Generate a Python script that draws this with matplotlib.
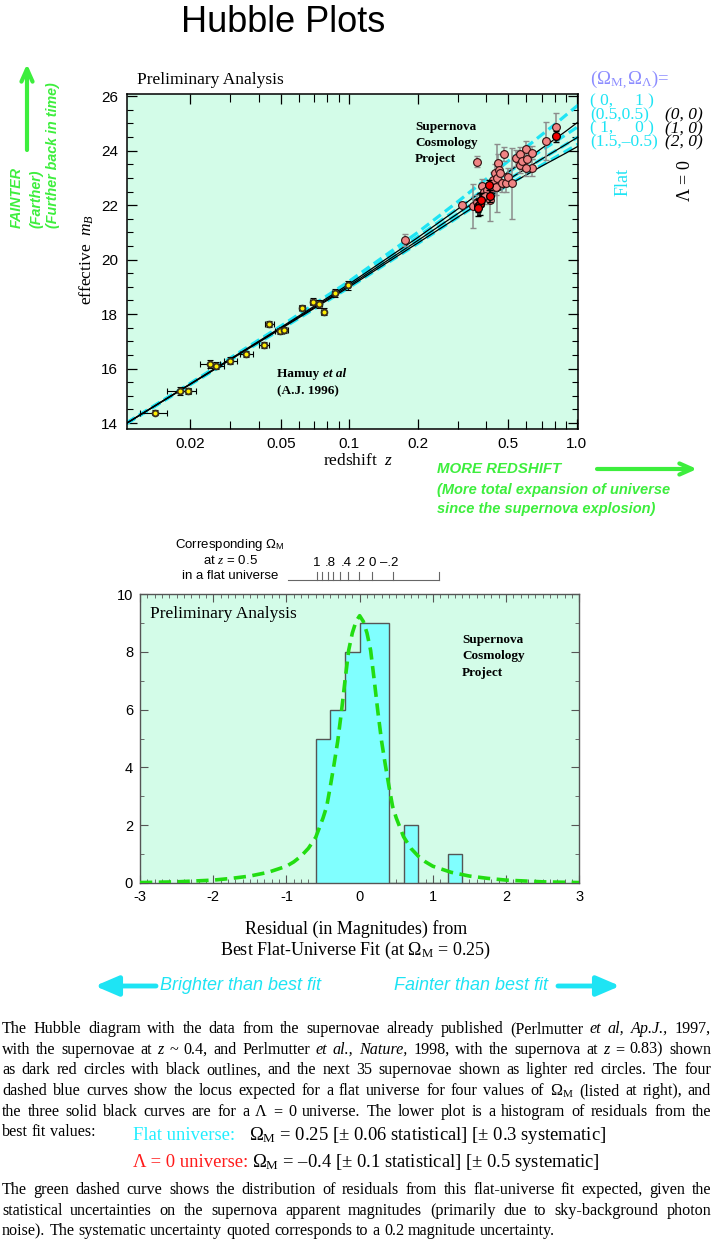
import matplotlib
matplotlib.use("Agg")
import matplotlib.pyplot as plt
import matplotlib.transforms as mtransforms
from matplotlib.patches import FancyArrowPatch
from matplotlib.ticker import FixedLocator, NullFormatter, MultipleLocator, FixedFormatter

SANS = "Liberation Sans"
SERIF = "Liberation Serif"
plt.rcParams["font.family"] = [SANS, "DejaVu Sans"]
plt.rcParams["mathtext.fontset"] = "custom"
plt.rcParams["mathtext.rm"] = SERIF
plt.rcParams["mathtext.it"] = SERIF + ":italic"
plt.rcParams["mathtext.bf"] = SERIF + ":bold"
plt.rcParams["mathtext.sf"] = SANS
plt.rcParams["axes.unicode_minus"] = False

# ---------------- data ----------------
# model curves (effective m_B vs redshift)
model_z = [0.0105, 0.02, 0.05, 0.1, 0.2, 0.3, 0.4, 0.5, 0.6, 0.7, 0.8, 0.9, 1.012]
flat_0_1 = [14.01, 15.46, 17.56, 19.21, 21.00, 22.13, 22.96, 23.62, 24.13, 24.58, 24.96, 25.32, 25.67]
flat_05_05 = [14.00, 15.44, 17.52, 19.13, 20.84, 21.88, 22.63, 23.21, 23.64, 24.01, 24.32, 24.60, 24.88]
flat_1_0 = [13.99, 15.43, 17.48, 19.05, 20.70, 21.69, 22.41, 22.94, 23.35, 23.69, 23.98, 24.24, 24.50]
flat_15_m05 = [13.98, 15.41, 17.44, 18.98, 20.59, 21.55, 22.23, 22.75, 23.14, 23.47, 23.74, 23.99, 24.24]
open_0_0 = [14.00, 15.44, 17.51, 19.11, 20.81, 21.86, 22.63, 23.22, 23.68, 24.08, 24.42, 24.73, 25.05]
open_1_0 = flat_1_0
open_2_0 = [13.99, 15.42, 17.46, 19.00, 20.61, 21.56, 22.23, 22.74, 23.11, 23.43, 23.69, 23.92, 24.16]

# Hamuy et al (1996) low-redshift supernovae
hamuy_z = [0.01394, 0.01796, 0.01961, 0.02449, 0.02603, 0.02998, 0.03526, 0.04229, 0.04446,
           0.04936, 0.0514, 0.0619, 0.0692, 0.0738, 0.0773, 0.0861, 0.0986]
hamuy_m = [14.38, 15.18, 15.18, 16.16, 16.11, 16.29, 16.53, 16.86, 17.63,
           17.37, 17.42, 18.24, 18.46, 18.36, 18.09, 18.77, 19.05]
hamuy_zerr = [0.0019, 0.0021, 0.0015, 0.0024, 0.0022, 0.0020, 0.0023, 0.0021, 0.0020,
              0.0021, 0.0021, 0.0021, 0.0021, 0.0021, 0.0020, 0.0021, 0.0022]
hamuy_merr = [0.08, 0.14, 0.10, 0.15, 0.12, 0.12, 0.12, 0.10, 0.10,
              0.10, 0.10, 0.10, 0.12, 0.14, 0.12, 0.15, 0.18]

# next 35 Supernova Cosmology Project supernovae (lighter red)
scp_new_z = [0.176, 0.314, 0.348, 0.363, 0.363, 0.382, 0.389, 0.402, 0.395, 0.416, 0.425, 0.430,
             0.437, 0.442, 0.447, 0.452, 0.455, 0.460, 0.468, 0.480, 0.489, 0.500, 0.518, 0.539,
             0.563, 0.569, 0.563, 0.575, 0.596, 0.606, 0.634, 0.634, 0.598, 0.732, 0.808]
scp_new_m = [20.72, 22.01, 21.97, 22.11, 23.60, 22.71, 22.50, 22.56, 22.35, 22.17, 22.62, 22.93,
             23.17, 22.68, 23.01, 23.56, 23.30, 23.17, 22.80, 23.87, 22.80, 23.05, 22.80, 23.74,
             23.87, 23.56, 23.48, 23.62, 24.05, 23.69, 23.93, 23.38, 23.36, 24.36, 24.88]
scp_new_err = [0.22, 0.12, 0.80, 0.25, 0.20, 0.25, 0.30, 0.25, 0.30, 0.75, 0.30, 0.30,
               0.35, 0.30, 1.25, 0.30, 0.30, 0.25, 0.30, 0.25, 0.30, 0.30, 1.30, 0.30,
               0.25, 0.25, 0.30, 0.25, 0.30, 0.30, 0.25, 0.30, 0.30, 0.70, 0.50]

# previously published SCP supernovae (dark red)
scp_old_z = [0.369, 0.374, 0.366, 0.378, 0.412, 0.416, 0.808]
scp_old_m = [21.98, 22.05, 21.90, 22.20, 22.74, 22.34, 24.52]
scp_old_err = [0.25, 0.40, 0.30, 0.25, 0.20, 0.22, 0.20]

xtick_vals = [0.02, 0.05, 0.1, 0.2, 0.5, 1.0]
xtick_labels = ["0.02", "0.05", "0.1", "0.2", "0.5", "1.0"]
xminor_vals = [0.01, 0.03, 0.04, 0.06, 0.07, 0.08, 0.09, 0.3, 0.4, 0.6, 0.7, 0.8, 0.9]

legend_flat = ["( 0,     1 )", "(0.5,0.5)", "( 1,     0 )", "(1.5,\u20130.5)"]
legend_open = ["(0, 0)", "(1, 0)", "(2, 0)"]

# residual histogram
hist_edges = [-0.6, -0.4, -0.2, 0.0, 0.2, 0.4, 0.6, 0.8, 1.0, 1.2, 1.4]
hist_counts = [5, 6, 8, 9, 9, 0, 2, 0, 0, 1]

# expected residual distribution (green dashed)
res_x = [-3.0, -2.5, -2.0, -1.75, -1.5, -1.25, -1.0, -0.9, -0.8, -0.7, -0.6, -0.5, -0.45, -0.4,
         -0.35, -0.3, -0.25, -0.2, -0.15, -0.1, -0.05, 0.0, 0.05, 0.1, 0.15, 0.2, 0.25, 0.3,
         0.35, 0.4, 0.45, 0.5, 0.6, 0.7, 0.8, 0.9, 1.0, 1.25, 1.5, 1.75, 2.0, 2.5, 3.0]
res_y = [0.015, 0.04, 0.10, 0.16, 0.24, 0.37, 0.58, 0.73, 0.93, 1.2, 1.58, 2.25, 2.65, 3.35,
         4.1, 4.9, 5.9, 7.0, 8.05, 8.65, 9.05, 9.25, 9.05, 8.65, 8.05, 7.0, 5.9, 4.9,
         4.1, 3.35, 2.65, 2.25, 1.6, 1.2, 0.93, 0.73, 0.58, 0.37, 0.24, 0.16, 0.10, 0.04, 0.015]

# corresponding Omega_M scale (in residual units)
om_tick_x = [-0.587, -0.519, -0.437, -0.361, -0.269, -0.164, -0.010, 0.172, 0.459]
om_labels = ["1", ".8", ".4", ".2", "0", "\u2013.2"]
om_label_x = [-0.587, -0.395, -0.178, 0.004, 0.172, 0.404]
om_scale_range = [-0.975, 1.087]

# ---------------- style ----------------
W, H = 713, 1245
BG = "#d3fce8"
CYAN = "#1ee4f4"
GREEN = "#3dee3d"
CURVE_GREEN = "#22dd11"
LAVENDER = "#8c8cff"
PM = "\u00b1"
EN = "\u2013"

fig = plt.figure(figsize=(W / 100, H / 100), dpi=100)
renderer = fig.canvas.get_renderer()


def T(x, y, s, **kw):
    return fig.text(x / W, 1 - y / H, s, **kw)


def arrow(p0, p1, color, lw, style):
    a = FancyArrowPatch((p0[0] / W, 1 - p0[1] / H), (p1[0] / W, 1 - p1[1] / H),
                        transform=fig.transFigure, arrowstyle=style, color=color, lw=lw,
                        mutation_scale=1, shrinkA=0, shrinkB=0)
    fig.add_artist(a)


# title
T(283, 22, "Hubble Plots", fontsize=26, ha="center", va="center", family=SANS)

# ---------------- top plot ----------------
ax1 = fig.add_axes([126.7 / W, 1 - 429 / H, (578 - 126.7) / W, (429 - 94) / H])
ax1.set_facecolor(BG)
ax1.set_xscale("log")
ax1.set_xlim(0.0105, 1.012)
ax1.set_ylim(13.78, 26.08)

for ys in [flat_0_1, flat_05_05, flat_1_0, flat_15_m05]:
    ax1.plot(model_z, ys, color=CYAN, lw=2.3, ls=(0, (3, 1.6)), zorder=2)
for ys in [open_0_0, open_1_0, open_2_0]:
    ax1.plot(model_z, ys, color="black", lw=0.9, zorder=3)

ax1.errorbar(hamuy_z, hamuy_m, xerr=hamuy_zerr, yerr=hamuy_merr, fmt="none", ecolor="black",
             elinewidth=0.8, capsize=2, capthick=0.8, zorder=4)
ax1.plot(hamuy_z, hamuy_m, "o", ms=4.2, mfc="#ffee00", mec="#3a3020", mew=1.3, zorder=5)

ax1.errorbar(scp_new_z, scp_new_m, yerr=scp_new_err, fmt="none", ecolor="#8c8c8c",
             elinewidth=1.1, capsize=2.5, capthick=1.0, zorder=4)
ax1.plot(scp_new_z, scp_new_m, "o", ms=5.6, mfc="#f08484", mec="#301010", mew=0.8, zorder=6)
ax1.errorbar(scp_old_z, scp_old_m, yerr=scp_old_err, fmt="none", ecolor="black",
             elinewidth=1.1, capsize=2.5, capthick=1.0, zorder=6)
ax1.plot(scp_old_z, scp_old_m, "o", ms=5.6, mfc="#ee0000", mec="black", mew=0.9, zorder=7)

ax1.xaxis.set_major_locator(FixedLocator(xtick_vals))
ax1.xaxis.set_major_formatter(FixedFormatter(xtick_labels))
ax1.xaxis.set_minor_locator(FixedLocator(xminor_vals))
ax1.xaxis.set_minor_formatter(NullFormatter())
ax1.yaxis.set_major_locator(MultipleLocator(2))
ax1.yaxis.set_minor_locator(MultipleLocator(0.5))
ax1.tick_params(which="both", direction="in", top=True, right=True)
ax1.tick_params(which="major", length=7, width=0.9, labelsize=11, pad=6)
ax1.tick_params(axis="x", which="minor", length=6, width=0.8)
ax1.tick_params(axis="y", which="minor", length=4, width=0.8)
for sp in ax1.spines.values():
    sp.set_linewidth(1.1)

T(137, 80, "Preliminary Analysis", family=SERIF, fontsize=12.5, ha="left", va="center")
T(87, 259, r"effective  $m_B$", family=SERIF, fontsize=12.5, rotation=90, ha="center", va="center")
T(358, 461, r"redshift  $z$", family=SERIF, fontsize=12.5, ha="center", va="center")
for i, s in enumerate(["Supernova", "Cosmology", "Project"]):
    T(415, 127 + 16 * i, s, family=SERIF, fontsize=9.5, weight="bold", ha="left", va="center")
t = T(277, 377, "Hamuy ", family=SERIF, fontsize=9.5, weight="bold", ha="left", va="baseline")
w = t.get_window_extent(renderer).width
T(277 + w, 377, "et al", family=SERIF, fontsize=9.5, weight="bold", style="italic", ha="left",
  va="baseline")
T(277, 394, "(A.J. 1996)", family=SERIF, fontsize=9.5, weight="bold", ha="left", va="baseline")

# right legend (each block is one multi-line text with tight line spacing)
T(590, 80, r"$(\Omega_\mathrm{M,}\Omega_\Lambda)$=", family=SERIF, fontsize=13.5, color=LAVENDER,
  ha="left", va="center")
T(590, 122, "\n".join(legend_flat), family=SERIF, fontsize=12.5, color=CYAN, ha="left",
  va="center", linespacing=0.8)
T(665, 129, "\n".join(legend_open), family=SERIF, fontsize=12.5, style="italic", color="black",
  ha="left", va="center", linespacing=0.8)
T(623, 182, "Flat", family=SERIF, fontsize=13, color=CYAN, rotation=90, ha="center", va="center")
T(686, 181, r"$\Lambda$ = 0", family=SERIF, fontsize=13, color="black", rotation=90, ha="center",
  va="center")

# left green annotation
arrow((27, 150), (27, 64), GREEN, 3, "->,head_length=9,head_width=4")
for xx, s in [(17, "FAINTER"), (36, "(Farther)"), (53, "(Further back in time)")]:
    T(xx, 228, s, family=SANS, fontsize=10.3, weight="bold", style="italic", color=GREEN,
      rotation=90, ha="center", va="bottom")

# bottom-right green annotation
T(437, 469, "MORE REDSHIFT", family=SANS, fontsize=10.8, weight="bold", style="italic", color=GREEN,
  ha="left", va="center")
arrow((597, 469), (697, 469), GREEN, 3, "->,head_length=9,head_width=4")
T(437, 490, "(More total expansion of universe", family=SANS, fontsize=10.5, weight="bold",
  style="italic", color=GREEN, ha="left", va="center")
T(437, 509, "since the supernova explosion)", family=SANS, fontsize=10.5, weight="bold",
  style="italic", color=GREEN, ha="left", va="center")

# ---------------- histogram ----------------
ax2 = fig.add_axes([140 / W, 1 - 883 / H, (579.3 - 140) / W, (883 - 594) / H])
ax2.set_facecolor(BG)
ax2.set_xlim(-3, 3)
ax2.set_ylim(0, 10)
ax2.stairs(hist_counts, hist_edges, fill=True, facecolor="#80ffff", edgecolor="none", zorder=2)
ax2.stairs(hist_counts, hist_edges, fill=False, baseline=0, edgecolor="#555555", lw=1.0, zorder=3)
ax2.plot(res_x, res_y, color=CURVE_GREEN, lw=2.6, ls=(0, (3.4, 1.8)), zorder=4, clip_on=True)
ax2.xaxis.set_major_locator(MultipleLocator(1))
ax2.xaxis.set_minor_locator(MultipleLocator(0.1))
ax2.yaxis.set_major_locator(MultipleLocator(2))
ax2.yaxis.set_minor_locator(MultipleLocator(1))
ax2.tick_params(which="both", direction="in", top=True, right=True, color="#555555")
ax2.tick_params(which="major", length=6, width=0.8, labelsize=10.5, pad=5)
ax2.tick_params(which="minor", length=3, width=0.6)
for sp in ax2.spines.values():
    sp.set_color("#555555")
    sp.set_linewidth(1.0)

trans = mtransforms.blended_transform_factory(ax2.transData, ax2.transAxes)
ax2.plot(om_scale_range, [1.048, 1.048], transform=trans, color="#666666", lw=0.8, clip_on=False)
for tx in om_tick_x + [om_scale_range[1]]:
    ax2.plot([tx, tx], [1.048, 1.076], transform=trans, color="#666666", lw=0.8, clip_on=False)
for tx, lab in zip(om_label_x, om_labels):
    ax2.text(tx, 1.107, lab, transform=trans, ha="center", va="center", fontsize=9.5, family=SANS)
T(230, 545, "Corresponding \u03a9" + r"$_\mathsf{M}$", family=SANS,
  fontsize=9.5, ha="center", va="center")
T(230, 561, r"at $z$ = 0.5", family=SANS, fontsize=9.5, ha="center", va="center")
T(230, 576, "in a flat universe", family=SANS, fontsize=9.5, ha="center", va="center")

T(150, 614, "Preliminary Analysis", family=SERIF, fontsize=12.5, ha="left", va="center")
for i, s in enumerate(["Supernova", "Cosmology", "Project"]):
    T(462, 640 + 16.5 * i, s, family=SERIF, fontsize=9.5, weight="bold", ha="left", va="center")

T(356, 929, "Residual (in Magnitudes) from", family=SERIF, fontsize=13, ha="center", va="center")
T(356, 950, r"Best Flat-Universe Fit (at $\Omega_\mathrm{M}$ = 0.25)", family=SERIF, fontsize=13,
  ha="center", va="center")

arrow((156, 986), (95, 986), CYAN, 3.5, "-|>,head_length=14,head_width=6")
T(160, 986, "Brighter than best fit", family=SANS, fontsize=13, style="italic", color=CYAN,
  ha="left", va="center")
T(394, 986, "Fainter than best fit", family=SANS, fontsize=13, style="italic", color=CYAN,
  ha="left", va="center")
arrow((558, 986), (620, 986), CYAN, 3.5, "-|>,head_length=14,head_width=6")

# ---------------- caption ----------------
PSIZE = 11.6


def line(chunks, y, justify, x0=2, x1=711, size=PSIZE):
    arts = []
    for text, style in chunks:
        for word in text.split():
            arts.append(fig.text(0, 1 - y / H, word, family=SERIF, fontsize=size,
                                 style=style or "normal", ha="left", va="baseline"))
    widths = [a.get_window_extent(renderer).width for a in arts]
    if justify and len(arts) > 1:
        gap = (x1 - x0 - sum(widths)) / (len(arts) - 1)
    else:
        gap = size * 100 / 72 * 0.25
    x = x0
    for a, wd in zip(arts, widths):
        a.set_x(x / W)
        x += wd + gap


y0 = 1033
dy = 20.7
para = [
    ([("The Hubble diagram with the data from the supernovae already published (Perlmutter", ""),
      ("et al, Ap.J.,", "italic"), ("1997,", "")], True),
    ([("with the supernovae at", ""), ("z", "italic"), ("~ 0.4, and Perlmutter", ""),
      ("et al., Nature,", "italic"), ("1998, with the supernova at", ""), ("z", "italic"),
      ("= 0.83) shown", "")], True),
    ([("as dark red circles with black outlines, and the next 35 supernovae shown as lighter red "
       "circles.  The four", "")], True),
    ([("dashed blue curves show the locus expected for a flat universe for four values of", ""),
      (r"$\Omega_\mathrm{M}$", ""), ("(listed at right), and", "")], True),
    ([("the three solid black curves are for a \u039b = 0 universe.  The lower plot is a histogram "
       "of residuals from the", "")], True),
    ([("best fit values:", "")], False),
]
for i, (chunks, just) in enumerate(para):
    line(chunks, y0 + dy * i, just)

BIG = 13.4
t = T(133, 1140, "Flat universe:", family=SERIF, fontsize=BIG, color="#22eeff", ha="left",
      va="baseline")
w = t.get_window_extent(renderer).width
T(133 + w + 14, 1140, r"$\Omega_\mathrm{M}$ = 0.25 [" + PM + " 0.06 statistical] [" + PM +
  " 0.3 systematic]", family=SERIF, fontsize=BIG, ha="left", va="baseline")
t = T(133, 1167, "\u039b = 0 universe:", family=SERIF, fontsize=BIG, color="#ff1a1a", ha="left",
      va="baseline")
w = t.get_window_extent(renderer).width
T(133 + w + 4, 1167, r"$\Omega_\mathrm{M}$ = " + EN + "0.4 [" + PM + " 0.1 statistical] [" + PM +
  " 0.5 systematic]", family=SERIF, fontsize=BIG, ha="left", va="baseline")

para2 = [
    ([("The green dashed curve shows the distribution of residuals from this flat-universe fit "
       "expected, given the", "")], True),
    ([("statistical uncertainties on the supernova apparent magnitudes (primarily due to "
       "sky-background photon", "")], True),
    ([("noise).  The systematic uncertainty quoted corresponds to a 0.2 magnitude uncertainty.", "")],
     False),
]
for i, (chunks, just) in enumerate(para2):
    line(chunks, 1194 + dy * i, just)

fig.savefig("out.png", dpi=100)
